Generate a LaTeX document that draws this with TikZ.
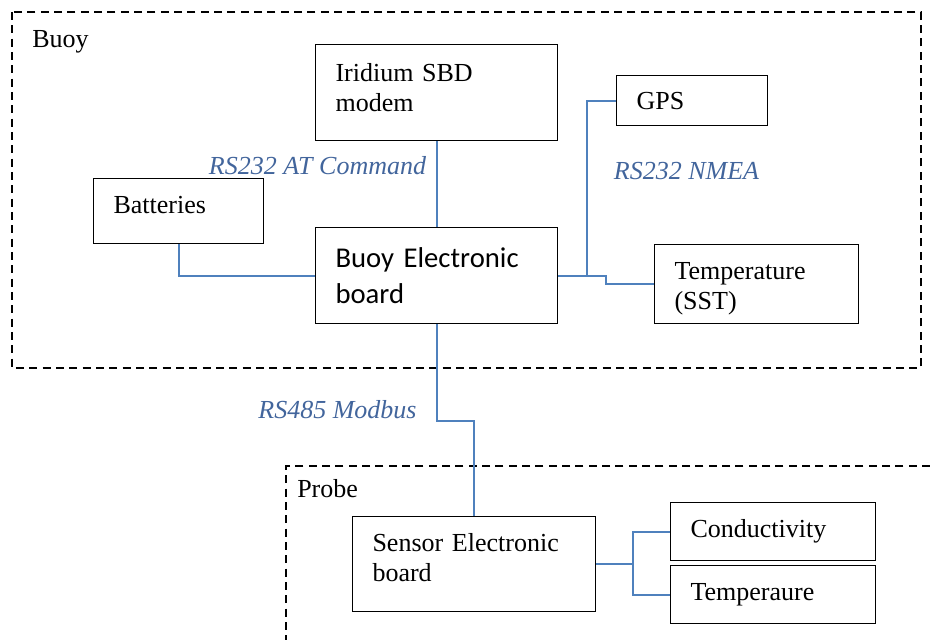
\documentclass[tikz,border=0pt]{standalone}
\usepackage{fontspec}
\setmainfont{Liberation Serif}
\newfontfamily\boardfont{Carlito}
\usetikzlibrary{calc}

\tikzset{
  unit/.style={draw, line width=0.8pt, rectangle, anchor=north west, align=left,
    inner xsep=15pt, inner ysep=0pt, font=\fontsize{19.5}{22.5}\selectfont},
  region/.style={line width=1.1pt, dash pattern=on 6pt off 4pt},
  link/.style={color={rgb,255:red,79;green,129;blue,189}, line width=1.5pt},
  bus/.style={color={rgb,255:red,66;green,101;blue,156}, font=\fontsize{19.5}{22.5}\selectfont\itshape},
  zone/.style={anchor=west, inner sep=0pt, font=\fontsize{19.5}{22.5}\selectfont}
}

\begin{document}
\begin{tikzpicture}[x=0.75pt,y=0.75pt,yscale=-1,xscale=1]
\useasboundingbox (0,0) rectangle (930,640);

%Shape: Rectangle (buoy region)
\draw[region] (12,12) rectangle (921,368);
%Straight Lines (probe region, open to the page edge)
\draw[region] (930,466) -- (286,466) -- (286,640);

% Text Node
\node[zone] (buoylbl) at (32,42) {Buoy};
% Text Node
\node[zone] (probelbl) at (297,489) {Probe};

%Shape: Rectangle
\node[unit, minimum width=181.5pt, minimum height=72pt, text width=151.5pt, text depth=30pt] (iridium) at (315,44) {Iridium SBD\\modem};
%Shape: Rectangle
\node[unit, minimum width=113.25pt, minimum height=37.5pt, text width=83.25pt] (gps) at (616,75) {GPS};
%Shape: Rectangle
\node[unit, minimum width=127.5pt, minimum height=48.75pt, text width=97.5pt, text depth=9pt] (batt) at (93,178) {Batteries};
%Shape: Rectangle
\node[unit, minimum width=181.5pt, minimum height=72pt, text width=151.5pt,
  font=\boardfont\fontsize{21.5}{27.5}\selectfont] (buoyboard) at (315,227) {Buoy Electronic\\board};
%Shape: Rectangle
\node[unit, minimum width=153pt, minimum height=59.25pt, text width=123pt, text height=20.4pt] (sst) at (654,244) {Temperature\\(SST)};
%Shape: Rectangle
\node[unit, minimum width=182.25pt, minimum height=71.25pt, text width=152.25pt, text depth=33pt] (sensor) at (352,516) {Sensor Electronic\\board};
%Shape: Rectangle
\node[unit, minimum width=153.75pt, minimum height=43.5pt, text width=123.75pt] (cond) at (670,502) {Conductivity};
%Shape: Rectangle
\node[unit, minimum width=153.75pt, minimum height=43.5pt, text width=123.75pt] (tempp) at (670,565) {Temperaure};

%Straight Lines
\draw[link] (iridium.south) -- (buoyboard.north);
\draw[link] (batt.south) |- (buoyboard.west);
\draw[link] (buoyboard.east) -- ++(29,0) |- (gps.west);
\draw[link] (buoyboard.east) -- ++(48,0) |- (sst.west);
\draw[link] (buoyboard.south) -- ++(0,97) -| (sensor.north);
\draw[link] (sensor.east) -- ++(37,0) coordinate (split) |- (cond.west);
\draw[link] (split) |- (tempp.west);

% Text Node
\node[bus] (atlbl) at (317.5,166) {RS232 AT Command};
% Text Node
\node[bus] (nmealbl) at (686.5,171) {RS232 NMEA};
% Text Node
\node[bus] (modbuslbl) at (337.5,410) {RS485 Modbus};

\end{tikzpicture}
\end{document}
